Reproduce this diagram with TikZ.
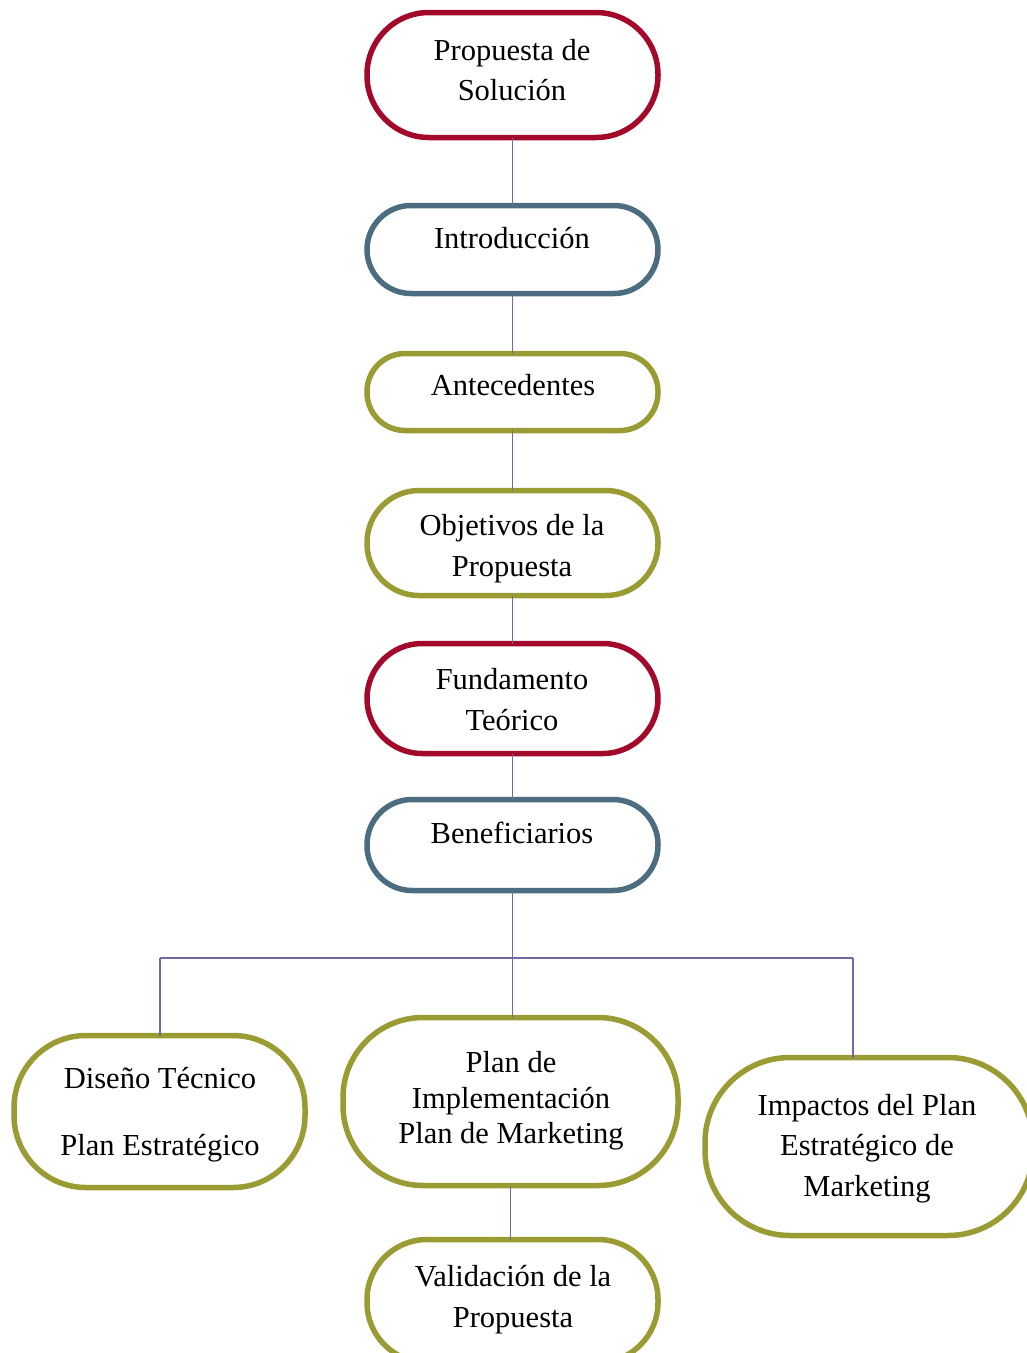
\documentclass[tikz,border=0pt]{standalone}
\usepackage{fontspec}
\setmainfont{Liberation Serif}
\definecolor{cred}{RGB}{163,10,42}
\definecolor{cblue}{RGB}{76,109,128}
\definecolor{colive}{RGB}{155,155,52}
\definecolor{cline}{RGB}{110,106,166}
\tikzset{
  box/.style={draw, line width=5.5pt, fill=white, inner sep=0pt, outer sep=0pt},
  txt/.style={anchor=base, inner sep=0pt, font=\fontsize{30.5}{41}\selectfont},
  conn/.style={draw=cline, line width=1.8pt},
}
\newcommand\mybox[7]{% name, color, cx, cy, w, h, r
  \node[box, draw=#2, minimum width=#5pt-5pt, minimum height=#6pt-5pt, rounded corners=#7pt] (#1) at (#3,-#4) {};}
\begin{document}
\begin{tikzpicture}[x=1pt,y=1pt]
\useasboundingbox (0,0) rectangle (1027,-1353);
\mybox{b1}{cred}{512.5}{75}{296}{130}{62}
\mybox{b2}{cblue}{512.5}{249.5}{296}{93}{44}
\mybox{b3}{colive}{512.5}{392}{296}{82}{38}
\mybox{b4}{colive}{512.5}{543}{296}{110}{52}
\mybox{b5}{cred}{512.5}{698.5}{296}{115}{55}
\mybox{b6}{cblue}{512.5}{845}{296}{96}{45}
\mybox{b7}{colive}{159.5}{1111.5}{296}{157}{72}
\mybox{b8}{colive}{510.5}{1101.5}{340}{173}{80}
\mybox{b9}{colive}{869}{1146.5}{333}{183}{85}
\mybox{b10}{colive}{512.5}{1301}{296}{128}{60}
% connectors
\draw[conn] (b1.south) -- (b2.north);
\draw[conn] (b2.south) -- (b3.north);
\draw[conn] (b3.south) -- (b4.north);
\draw[conn] (b4.south) -- (b5.north);
\draw[conn] (b5.south) -- (b6.north);
\coordinate (jc) at (512.5,-958);
\coordinate (jl) at (160,-958);
\coordinate (jr) at (853,-958);
\draw[conn] (b6.south) -- (jc);
\draw[conn] (jl) -- (jr);
\draw[conn] (jl) -- (jl |- b7.north);
\draw[conn] (jc) -- (jc |- b8.north);
\draw[conn] (jr) -- (jr |- b9.north);
\draw[conn] (b8.south) -- (b8.south |- b10.north);
% texts
\node[txt] (t1a) at (512,-60) {Propuesta de};
\node[txt] (t1b) at (512,-100) {Solución};
\node[txt] (t2) at (512,-248) {Introducción};
\node[txt] (t3) at (513,-395) {Antecedentes};
\node[txt] (t4a) at (512,-535) {Objetivos de la};
\node[txt] (t4b) at (512,-576) {Propuesta};
\node[txt] (t5a) at (512,-689) {Fundamento};
\node[txt] (t5b) at (512,-730) {Teórico};
\node[txt] (t6) at (512,-843) {Beneficiarios};
\node[txt] (t7a) at (160,-1088) {Diseño Técnico};
\node[txt] (t7b) at (160,-1155) {Plan Estratégico};
\node[txt] (t8a) at (511,-1072) {Plan de};
\node[txt] (t8b) at (511,-1108) {Implementación};
\node[txt] (t8c) at (511,-1143) {Plan de Marketing};
\node[txt] (t9a) at (867,-1115) {Impactos del Plan};
\node[txt] (t9b) at (867,-1155) {Estratégico de};
\node[txt] (t9c) at (867,-1196) {Marketing};
\node[txt] (t10a) at (513,-1286) {Validación de la};
\node[txt] (t10b) at (513,-1327) {Propuesta};
\end{tikzpicture}
\end{document}
